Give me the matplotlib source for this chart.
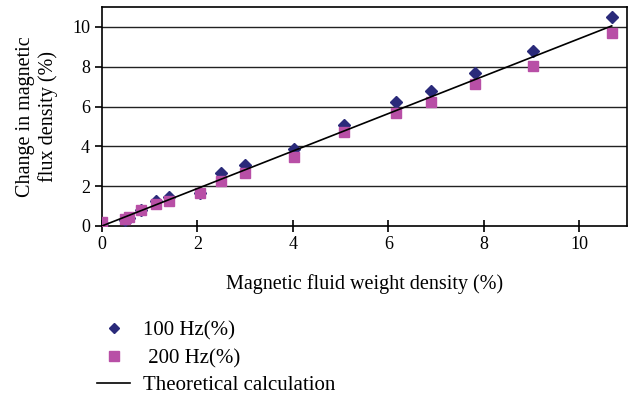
import matplotlib
matplotlib.use("Agg")
import matplotlib.pyplot as plt
from matplotlib.lines import Line2D

plt.rcParams['font.family'] = ['Liberation Serif', 'DejaVu Serif']

x_100 = [0.0, 0.48, 0.57, 0.81, 1.13, 1.40, 2.05, 2.49, 2.99, 4.03, 5.07, 6.16, 6.89, 7.81, 9.03, 10.68]
y_100 = [0.15, 0.30, 0.40, 0.80, 1.26, 1.44, 1.64, 2.65, 3.07, 3.86, 5.08, 6.23, 6.78, 7.67, 8.79, 10.52]
x_200 = [0.0, 0.48, 0.57, 0.81, 1.13, 1.40, 2.05, 2.49, 2.99, 4.03, 5.07, 6.16, 6.89, 7.81, 9.03, 10.68]
y_200 = [0.20, 0.35, 0.47, 0.80, 1.10, 1.27, 1.64, 2.28, 2.68, 3.48, 4.74, 5.66, 6.25, 7.12, 8.06, 9.68]
x_theory = [0.0, 10.68]
y_theory = [0.0, 10.05]

labels = ['100 Hz(%)', ' 200 Hz(%)', 'Theoretical calculation']
xticks = [0, 2, 4, 6, 8, 10]
yticks = [0, 2, 4, 6, 8, 10]

fig = plt.figure(figsize=(6.33, 4.0), dpi=100)
ax = fig.add_axes([0.161, 0.435, 0.8295, 0.5475])

for y in yticks[1:]:
    ax.axhline(y, color='#222222', lw=1.0, zorder=1)

c100 = '#2a2a7a'
c200 = '#b84fa6'
ax.plot(x_100, y_100, linestyle='none', marker='D', ms=6, color=c100, zorder=3)
ax.plot(x_200, y_200, linestyle='none', marker='s', ms=7.5, color=c200, zorder=4)
ax.plot(x_theory, y_theory, color='black', lw=1.2, zorder=5)

ax.set_xlim(0, 11)
ax.set_ylim(0, 11)
ax.set_xticks(xticks)
ax.set_yticks(yticks)
ax.tick_params(axis='x', direction='inout', length=8, labelsize=13, width=1.2)
ax.tick_params(axis='y', direction='out', length=5, labelsize=13, width=1.2)
for s in ax.spines.values():
    s.set_linewidth(1.2)
ax.set_xlabel('Magnetic fluid weight density (%)', fontsize=14.5, labelpad=15)
ax.set_ylabel('Change in magnetic\nflux density (%)', fontsize=14.5, labelpad=10)

handles = [
    Line2D([], [], linestyle='none', marker='D', ms=5, color=c100),
    Line2D([], [], linestyle='none', marker='s', ms=6.5, color=c200),
    Line2D([], [], color='black', lw=1.2),
]
fig.legend(handles, labels, loc='upper left', bbox_to_anchor=(0.153, 0.197),
           frameon=False, fontsize=15, handlelength=1.6, handletextpad=0.6,
           labelspacing=0.37, borderaxespad=0, borderpad=0)

fig.savefig('out.png', dpi=100)
